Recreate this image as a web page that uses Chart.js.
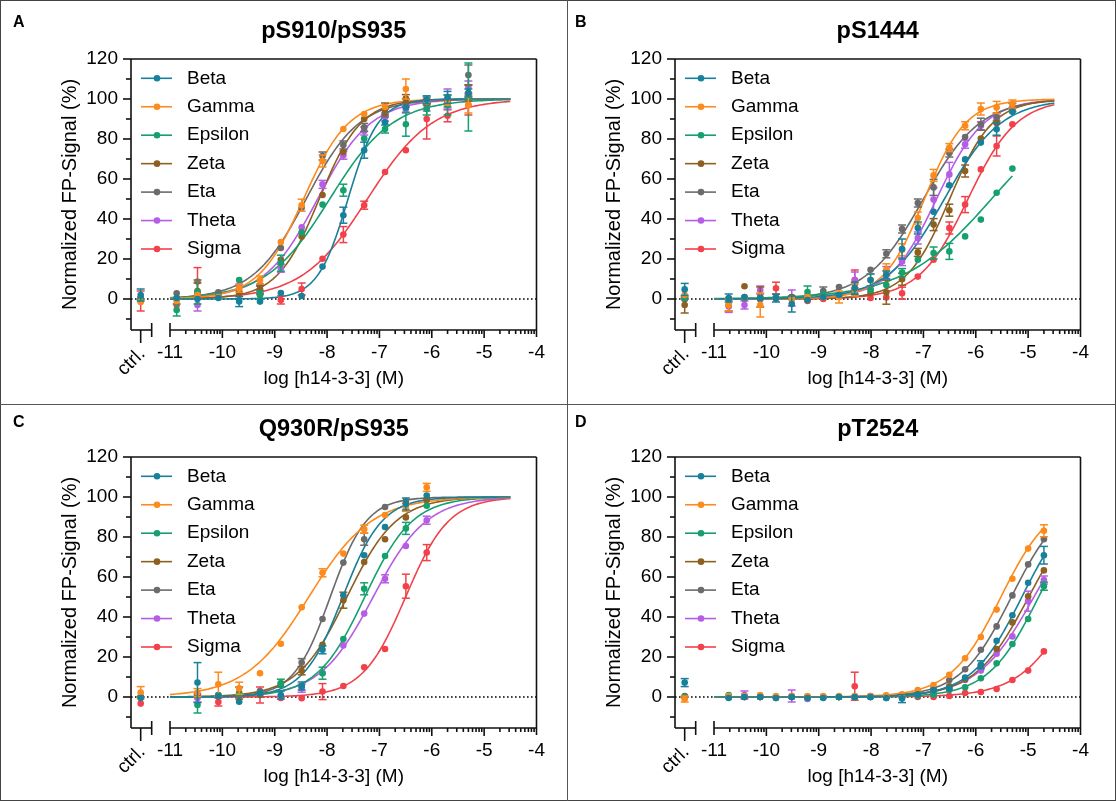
<!DOCTYPE html>
<html>
<head>
<meta charset="utf-8">
<script src="https://cdn.jsdelivr.net/npm/chart.js@4.4.1/dist/chart.umd.min.js"></script>
<style>
  html, body { margin: 0; padding: 0; background: #fff; }
  #page { position: relative; width: 1116px; height: 801px; overflow: hidden; font-family: 'Liberation Sans', Arial, sans-serif; }
  .outer { position: absolute; left: 0; top: 0; width: 1114px; height: 799px; border: 1px solid #444; }
  .vline { position: absolute; left: 567px; top: 0; width: 1px; height: 801px; background: #555; }
  .hline { position: absolute; left: 0; top: 404px; width: 1116px; height: 1px; background: #555; }
  .panel { position: absolute; width: 560px; height: 398px; }
  .letter { position: absolute; font-weight: bold; font-size: 16px; line-height: 16px; color: #000; }
</style>
</head>
<body>
<div id="page">
  <div class="outer"></div>
  <div class="vline"></div>
  <div class="hline"></div>
  <div class="panel" style="left:0;top:0"><canvas id="chartA" width="560" height="398"></canvas></div>
  <div class="panel" style="left:544px;top:0"><canvas id="chartB" width="560" height="398"></canvas></div>
  <div class="panel" style="left:0;top:398px"><canvas id="chartC" width="560" height="398"></canvas></div>
  <div class="panel" style="left:544px;top:398px"><canvas id="chartD" width="560" height="398"></canvas></div>
  <div class="letter" style="left:13px;top:14px">A</div>
  <div class="letter" style="left:575px;top:14px">B</div>
  <div class="letter" style="left:13px;top:414px">C</div>
  <div class="letter" style="left:575px;top:414px">D</div>
</div>
<script>
// series + axes
const seriesNames = ['Beta', 'Gamma', 'Epsilon', 'Zeta', 'Eta', 'Theta', 'Sigma'];
const seriesColors = ['#17819b', '#fd8a1d', '#15a06e', '#8d5f20', '#6b6b6b', '#b65de6', '#f2414a'];
const xTickLabels = [-11, -10, -9, -8, -7, -6, -5, -4];
const yTickLabels = [0, 20, 40, 60, 80, 100, 120];
const CTRL_X = -11.56;        // where the "ctrl." column sits on the broken axis
const CTRL_AXIS_END = -11.35;
const FIT_START = -11;

// ---- A: pS910/pS935 ----
const concA = [-10.873, -10.475, -10.077, -9.679, -9.281, -8.883, -8.485, -8.087, -7.689, -7.291, -6.893, -6.495, -6.097, -5.699, -5.301];
const aBeta       = [0.5, 0, 0.5, -1.3, -1.3, 3, 1.5, 16.2, 41.9, 74.4, 88.3, 95.8, 99.6, 100.8, 103];
const aBetaErr    = [0, 0, 0, 2.5, 0, 0, 0, 0, 4, 4, 0, 0, 2, 3, 2];
const aGamma      = [-1, 2, 1, 5.4, 9.5, 28.5, 46.9, 69, 85, 92.5, 96, 105, 98.5, 98, 97];
const aGammaErr   = [0, 0, 0, 2, 2, 0, 3, 3, 0, 0, 0, 5, 0, 0, 4];
const aEpsilon    = [-5.5, 3.5, 1.5, 9.5, 2, 17.9, 33.3, 47.2, 54.4, 80.2, 85, 87.4, 95, 97, 101];
const aEpsilonErr = [3, 6, 0, 0, 2, 4, 0, 0, 3, 0, 2, 6, 3, 5, 17];
const aZeta       = [0, 4, 1.5, 3, 4.5, 19.6, 31.3, 52, 73.5, 90, 95, 100.2, 98, 99, 103];
const aZetaErr    = [0, 4, 0, 0, 2, 0, 0, 0, 0, 0, 3, 2, 0, 0, 4];
const aEta        = [2.9, 2.5, 3.4, 4, 7, 25.5, 45.6, 71.5, 77, 85.8, 93, 98, 99, 99, 112];
const aEtaErr     = [0, 0, 0, 0, 0, 0, 0, 2, 2, 2, 2, 2, 2, 3, 5];
const aTheta      = [0, -3, 1, 6.8, 5, 15.4, 35.8, 57.3, 71.9, 84, 91, 95, 96, 100, 106];
const aThetaErr   = [0, 3, 0, 0, 2, 2, 0, 2, 2, 2, 2, 2, 2, 5, 3];
const aSigma      = [-3, 8.7, 1, 2, 2, -0.5, 5, 20.1, 32.2, 46.9, 63.5, 74.4, 90, 91.6, 97];
const aSigmaErr   = [0, 7, 0, 0, 0, 2, 3, 0, 4, 2, 0, 0, 10, 3, 5];
const ctrlA    = [2, -1.5, 0, 0.5, 0, 0.5, -1];
const ctrlAErr = [3, 0, 0, 0, 0, 0, 5];
const ec50A = [-7.6, -8.45, -7.95, -8.15, -8.4, -8.18, -7.23];
const hillA = [1.5, 1.0, 0.72, 1.08, 0.85, 0.85, 0.7];
const fitEndA = [-4.5, -4.5, -4.5, -4.5, -4.5, -4.5, -4.5];

// ---- B: pS1444 ----
const concB = [-10.719, -10.418, -10.117, -9.816, -9.515, -9.214, -8.913, -8.612, -8.311, -8.010, -7.709, -7.408, -7.107, -6.806, -6.505, -6.204, -5.903, -5.602, -5.301];
const bBeta       = [0.5, 1, 0.5, 0.5, -2.5, -0.5, 1, 2, 5.4, 9.5, 12, 25, 35.5, 43.6, 56.9, 69.8, 78.2, 84.9, 93.6];
const bBetaErr    = [2, 0, 0, 2, 4, 0, 0, 0, 3, 3, 2, 5, 3, 0, 0, 0, 0, 3, 0];
const bGamma      = [-3, 1, -3, 0.5, 0, 1, 1, 1, 4.5, 9.5, 14.6, 24.6, 40.5, 61.8, 75.7, 86.6, 95, 95.8, 97.5];
const bGammaErr   = [3, 0, 6, 0, 0, 0, 0, 3, 3, 3, 3, 3, 3, 3, 2, 2, 3, 3, 2];
const bEpsilon    = [0, 0.5, 0.5, 1, 0.5, 3.5, 2.5, 2, 3, 4.5, 7, 13.2, 19.6, 23, 23.8, 31.3, 39.7, 53.1, 65.2];
const bEpsilonErr = [0, 0, 0, 0, 0, 3, 0, 0, 0, 0, 0, 2, 0, 3, 4, 0, 0, 0, 0];
const bZeta       = [-3, 6.4, 1, 0.5, 1, 0, 1, 2, 3, 3, 3.4, 9.9, 23.3, 37.2, 44.4, 64, 80.2, 88, 94];
const bZetaErr    = [3, 0, 5, 0, 0, 0, 0, 0, 0, 0, 6, 3, 2, 3, 3, 3, 0, 0, 0];
const bEta        = [0, 0.5, 0, 0.5, 1, 1.5, 4, 6, 7.5, 14.6, 22.6, 35, 48, 55.8, 73, 81, 87.4, 91, 95.8];
const bEtaErr     = [0, 0, 0, 0, 0, 0, 2, 0, 0, 0, 2, 2, 2, 4, 2, 0, 3, 2, 2];
const bTheta      = [-3.7, -3, 4.5, 0, 0.5, 1, 1, 2, 9.5, 5, 13.2, 18.7, 30.5, 49.7, 62.3, 77.4, 86.6, 89.8, 94];
const bThetaErr   = [3, 2, 2, 0, 4, 0, 0, 0, 4, 0, 3, 2, 3, 6, 6, 2, 2, 2, 0];
const bSigma      = [0, 0, 0, 5.4, 0, -1, 0, 1, 9.5, 0.5, 0.8, 2.9, 11.2, 19.6, 35.5, 47.2, 64.8, 76.5, 87.4];
const bSigmaErr   = [0, 0, 0, 3, 0, 0, 0, 0, 5, 0, 0, 3, 0, 0, 3, 4, 0, 5, 0];
const ctrlB    = [4.8, 2, 0.5, -3, 0, 0, 0];
const ctrlBErr = [3, 0, 0, 4, 0, 0, 0];
const ec50B = [-6.6, -6.98, -5.7, -6.5, -7.0, -6.75, -6.15];
const hillB = [0.8, 1.1, 0.51, 1.05, 0.8, 0.95, 0.93];
const fitEndB = [-4.5, -4.5, -5.301, -4.5, -4.5, -4.5, -4.5];

// ---- C: Q930R/pS935 ----
const concC = [-10.475, -10.077, -9.679, -9.281, -8.883, -8.485, -8.087, -7.689, -7.291, -6.893, -6.495, -6.097];
const cBeta       = [7.2, 0.4, -2.4, 1.9, 1, 5.5, 23.6, 50.9, 70.9, 85, 96.5, 100.7];
const cBetaErr    = [10, 0, 0, 0, 2, 2, 2, 0, 0, 0, 3, 0];
const cGamma      = [2.2, 6.4, 4.4, 11.9, 26.6, 44.9, 62.1, 71.7, 83.9, 91, 94.8, 104.8];
const cGammaErr   = [2, 6, 3, 0, 0, 0, 2, 0, 2, 0, 2, 2];
const cEpsilon    = [-4, 1, 1.5, 2, 6.9, 5.5, 11.9, 29, 54.1, 70.5, 84.3, 95.6];
const cEpsilonErr = [4, 0, 0, 0, 2, 0, 3, 0, 3, 0, 3, 0];
const cZeta       = [1, 0.5, 2, 1, 6.9, 13.1, 26.1, 48.4, 67.5, 78.9, 89.8, 98.5];
const cZetaErr    = [0, 0, 3, 0, 0, 2, 0, 4, 0, 0, 0, 0];
const cEta        = [1, 0.5, 1, 3, 6, 17.2, 39, 67.2, 78.9, 95, 98, 99];
const cEtaErr     = [0, 0, 0, 0, 0, 2, 0, 0, 3, 0, 0, 0];
const cTheta      = [-0.5, 1, 1, 1, 0.5, 4.4, 11.9, 25.8, 41.7, 59.1, 75.5, 88.4];
const cThetaErr   = [2, 0, 0, 0, 0, 2, 0, 0, 0, 2, 0, 2];
const cSigma      = [0, -2.5, 0.5, 1, -0.5, -0.6, 2.7, 5.5, 14.9, 24, 55.4, 72.2];
const cSigmaErr   = [0, 2, 0, 4, 0, 0, 4, 0, 0, 0, 6, 4];
const ctrlC    = [-0.5, 2.2, 0, 0, 0, 0, -3.3];
const ctrlCErr = [0, 3, 0, 0, 0, 0, 0];
const ec50C = [-7.7, -8.35, -7.28, -7.62, -7.94, -7.12, -6.5];
const hillC = [1.15, 0.72, 0.95, 0.92, 1.25, 0.85, 1.05];
const fitEndC = [-4.5, -4.5, -4.5, -4.5, -4.5, -4.5, -4.5];

// ---- D: pT2524 ----
const concD = [-10.720, -10.419, -10.118, -9.817, -9.516, -9.215, -8.914, -8.613, -8.312, -8.011, -7.710, -7.409, -7.108, -6.807, -6.506, -6.204, -5.903, -5.602, -5.301, -5.000, -4.699];
const dBeta       = [-0.5, 0, 0, -0.5, 0, -0.5, -0.5, 0, 0, 0, -0.5, -0.8, 1.3, 3.5, 4.4, 9.7, 16.1, 28.1, 40.9, 57.1, 70.9];
const dBetaErr    = [0, 0, 0, 0, 0, 0, 0, 0, 0, 0, 0, 2, 0, 0, 0, 0, 2, 0, 0, 0, 4.4];
const dGamma      = [0.5, 0.5, 1, 0.5, 0.5, 0.5, 0.5, 0.5, 0.5, 0.5, 0.8, 1.4, 3.5, 6, 11.1, 19.4, 30, 43.7, 59.1, 74.2, 83.1];
const dGammaErr   = [0, 0, 0, 0, 0, 0, 0, 0, 0, 0, 0, 0, 0, 0, 0, 0, 0, 0, 0, 0, 3];
const dEpsilon    = [1, 0.5, 0.5, 0, 0, 0, 0, 0, 0, 0, -0.5, 0, 0.5, 1.2, 3.5, 4.9, 9.4, 16.9, 26.5, 39, 55.4];
const dEpsilonErr = [0, 0, 0, 0, 0, 0, 0, 0, 0, 0, 0, 0, 0, 0, 0, 0, 0, 0, 0, 0, 2];
const dZeta       = [0, 0, 0, 0, 0, 0, 0, 0, 0, 0, 0.5, 1, 1.5, 3, 5.4, 8.9, 15.6, 24, 37.3, 50.4, 63.3];
const dZetaErr    = [0, 0, 0, 0, 0, 0, 0, 0, 0, 0, 0, 0, 0, 0, 0, 0, 0, 0, 0, 0, 0];
const dEta        = [0, 0, 0, 0, 0, 0, 0, 0, 0, 0, 0.5, 1, 1.9, 4.4, 8.5, 13.9, 23.6, 35.3, 50.8, 66.3, 78.9];
const dEtaErr     = [0, 0, 0, 0, 0, 0, 0, 0, 0, 0, 0, 0, 0, 0, 0, 0, 0, 0, 0, 0, 0];
const dTheta      = [0, 1, 0, 0, 0.5, -1, 0, 0, 0, 0, 0, 0.5, 1, 2, 4.4, 8.5, 13.2, 21.6, 30.3, 47.9, 58.5];
const dThetaErr   = [0, 2, 0, 0, 3, 0, 0, 0, 0, 0, 0, 0, 0, 0, 0, 0, 0, 0, 0, 5, 2];
const dSigma      = [0, 0, 0, -0.5, 0, 0, 0, 0, 5.4, 0.5, 0, 0, 0, 0, 0.5, 2, 2.5, 4, 8.5, 13.2, 22.8];
const dSigmaErr   = [0, 0, 0, 0, 0, 0, 0, 0, 7, 0, 0, 0, 0, 0, 0, 0, 0, 0, 0, 0, 0];
const ctrlD    = [7.2, -1, 0, 0, 0.5, 0, 0];
const ctrlDErr = [2, 1.5, 0, 0, 0, 0, 0];
const ec50D = [-5.12, -5.52, -4.8, -4.99, -5.32, -4.89, -4.05];
const hillD = [0.9, 0.9, 0.9, 0.85, 0.9, 0.8, 0.82];
const fitEndD = [-4.699, -4.699, -4.699, -4.699, -4.699, -4.699, -4.699];

Chart.defaults.font.family = "'Liberation Sans', Arial, Helvetica, sans-serif";
Chart.defaults.color = '#000';

// fitted dose-response (4PL, bottom 0, top 100)
function hillFit(x, ec50, h) {
  return 100 / (1 + Math.pow(10, (ec50 - x) * h));
}

function drawLine(ctx, x1, y1, x2, y2) {
  ctx.beginPath();
  ctx.moveTo(x1, y1);
  ctx.lineTo(x2, y2);
  ctx.stroke();
}

const panelDecor = {
  id: 'panelDecor',
  beforeDatasetsDraw(chart) {
    const { ctx, chartArea: a, scales: { y } } = chart;
    const y0 = y.getPixelForValue(0);
    ctx.save();
    ctx.strokeStyle = '#000';
    ctx.lineWidth = 1.5;
    ctx.setLineDash([1.6, 2.4]);
    drawLine(ctx, a.left, y0, a.right, y0);
    ctx.restore();
  },
  beforeDatasetDraw(chart, args) {
    const ds = chart.data.datasets[args.index];
    if (!ds.errorBars) return;
    const { ctx, scales: { x, y } } = chart;
    ctx.save();
    ctx.strokeStyle = ds.backgroundColor;
    ctx.lineWidth = 1.5;
    ds.data.forEach(function(p) {
      if (!p.e) return;
      const px = x.getPixelForValue(p.x);
      const t = y.getPixelForValue(p.y + p.e);
      const b = y.getPixelForValue(p.y - p.e);
      drawLine(ctx, px, t, px, b);
      drawLine(ctx, px - 4, t, px + 4, t);
      drawLine(ctx, px - 4, b, px + 4, b);
    });
    ctx.restore();
  },
  afterDraw(chart, args, opts) {
    const { ctx, chartArea: a, scales: { x, y } } = chart;
    const family = Chart.defaults.font.family;
    ctx.save();
    ctx.strokeStyle = '#111';
    ctx.lineWidth = 1.6;

    // y axis and the frame
    drawLine(ctx, a.left, a.top, a.left, a.bottom);
    drawLine(ctx, a.left, a.top, a.right, a.top);
    drawLine(ctx, a.right, a.top, a.right, a.bottom + 7);
    for (let v = -10; v <= 120; v += 10) {
      const py = y.getPixelForValue(v);
      drawLine(ctx, a.left - (v % 20 === 0 ? 8 : 5), py, a.left, py);
    }

    // broken x axis: short ctrl stub, then -11 .. -4
    const yb = a.bottom;
    const xc = x.getPixelForValue(CTRL_X);
    const xs = x.getPixelForValue(CTRL_AXIS_END);
    const x0 = x.getPixelForValue(xTickLabels[0]);
    const x1 = x.getPixelForValue(xTickLabels[xTickLabels.length - 1]);
    drawLine(ctx, a.left, yb, xs, yb);
    drawLine(ctx, xc, yb, xc, yb + 13);
    drawLine(ctx, xs, yb - 7, xs, yb + 7);
    drawLine(ctx, x0, yb - 7, x0, yb + 7);
    drawLine(ctx, x0, yb, x1, yb);
    for (let d = -11; d < -4; d++) {
      if (d > -11) drawLine(ctx, x.getPixelForValue(d), yb, x.getPixelForValue(d), yb + 8);
      for (let k = 2; k <= 9; k++) {
        const px = x.getPixelForValue(d + Math.log10(k));
        drawLine(ctx, px, yb, px, yb + 4);
      }
    }

    // ctrl. label
    ctx.fillStyle = '#000';
    ctx.font = '19px ' + family;
    ctx.save();
    ctx.translate(xc + 1.5, yb + 21);
    ctx.rotate(-Math.PI / 4);
    ctx.textAlign = 'right';
    ctx.textBaseline = 'middle';
    ctx.fillText('ctrl.', 0, 0);
    ctx.restore();

    // legend inside the plot
    ctx.textAlign = 'left';
    ctx.textBaseline = 'middle';
    seriesNames.forEach(function(name, i) {
      const ly = a.top + 19.3 + i * 28.45;
      ctx.strokeStyle = seriesColors[i];
      ctx.lineWidth = 1.6;
      drawLine(ctx, a.left + 10, ly, a.left + 41, ly);
      ctx.fillStyle = seriesColors[i];
      ctx.beginPath();
      ctx.arc(a.left + 26, ly, 3.3, 0, Math.PI * 2);
      ctx.fill();
      ctx.fillStyle = '#000';
      ctx.fillText(name, a.left + 56, ly);
    });

    // panel title
    ctx.font = 'bold 23.5px ' + family;
    ctx.textAlign = 'center';
    ctx.fillText(opts.title, (a.left + a.right) / 2, 32);
    ctx.restore();
  }
};

function makePanel(canvasId, title, conc, values, errs, ctrl, ctrlErr, ec50, hill, fitEnd) {
  const datasets = [];
  seriesNames.forEach(function(name, i) {
    const pts = conc.map(function(c, j) { return { x: c, y: values[i][j], e: errs[i][j] }; });
    pts.push({ x: CTRL_X, y: ctrl[i], e: ctrlErr[i] });
    datasets.push({
      label: name,
      data: pts,
      errorBars: true,
      backgroundColor: seriesColors[i],
      borderWidth: 0,
      pointRadius: 3.3,
      showLine: false,
      order: 1
    });
    const curve = [];
    for (let c = FIT_START; c < fitEnd[i]; c += 0.04) curve.push({ x: c, y: hillFit(c, ec50[i], hill[i]) });
    curve.push({ x: fitEnd[i], y: hillFit(fitEnd[i], ec50[i], hill[i]) });
    datasets.push({
      label: name + ' fit',
      data: curve,
      borderColor: seriesColors[i],
      borderWidth: 1.6,
      pointRadius: 0,
      showLine: true,
      tension: 0,
      order: 2
    });
  });

  new Chart(document.getElementById(canvasId), {
    type: 'scatter',
    data: { datasets: datasets },
    options: {
      responsive: false,
      devicePixelRatio: 1,
      animation: false,
      events: [],
      layout: { padding: { left: 0, right: 23.5, top: 59, bottom: 0 } },
      plugins: {
        legend: { display: false },
        tooltip: { enabled: false },
        panelDecor: { title: title }
      },
      scales: {
        x: {
          type: 'linear',
          min: -11.745,
          max: -4,
          afterBuildTicks: function(s) { s.ticks = xTickLabels.map(function(v) { return { value: v }; }); },
          afterFit: function(s) { s.height = 68; },
          grid: { drawOnChartArea: false, drawTicks: true, tickLength: 8, color: 'rgba(0,0,0,0)' },
          border: { display: false },
          ticks: { font: { size: 19 }, color: '#000', padding: 3, maxRotation: 0, autoSkip: false },
          title: { display: true, text: 'log [h14-3-3] (M)', font: { size: 19 }, color: '#000', padding: { top: 4, bottom: 8 } }
        },
        y: {
          type: 'linear',
          min: -15.5,
          max: 120,
          afterBuildTicks: function(s) { s.ticks = yTickLabels.map(function(v) { return { value: v }; }); },
          afterFit: function(s) { s.width = 131; },
          grid: { drawOnChartArea: false, drawTicks: true, tickLength: 8, color: 'rgba(0,0,0,0)' },
          border: { display: false },
          ticks: { font: { size: 19 }, color: '#000', padding: 5 },
          title: { display: true, text: 'Normalized FP-Signal (%)', font: { size: 20 }, color: '#000', padding: { top: 58, bottom: 0 } }
        }
      }
    },
    plugins: [panelDecor]
  });
}

makePanel('chartA', 'pS910/pS935', concA,
  [aBeta, aGamma, aEpsilon, aZeta, aEta, aTheta, aSigma],
  [aBetaErr, aGammaErr, aEpsilonErr, aZetaErr, aEtaErr, aThetaErr, aSigmaErr],
  ctrlA, ctrlAErr, ec50A, hillA, fitEndA);
makePanel('chartB', 'pS1444', concB,
  [bBeta, bGamma, bEpsilon, bZeta, bEta, bTheta, bSigma],
  [bBetaErr, bGammaErr, bEpsilonErr, bZetaErr, bEtaErr, bThetaErr, bSigmaErr],
  ctrlB, ctrlBErr, ec50B, hillB, fitEndB);
makePanel('chartC', 'Q930R/pS935', concC,
  [cBeta, cGamma, cEpsilon, cZeta, cEta, cTheta, cSigma],
  [cBetaErr, cGammaErr, cEpsilonErr, cZetaErr, cEtaErr, cThetaErr, cSigmaErr],
  ctrlC, ctrlCErr, ec50C, hillC, fitEndC);
makePanel('chartD', 'pT2524', concD,
  [dBeta, dGamma, dEpsilon, dZeta, dEta, dTheta, dSigma],
  [dBetaErr, dGammaErr, dEpsilonErr, dZetaErr, dEtaErr, dThetaErr, dSigmaErr],
  ctrlD, ctrlDErr, ec50D, hillD, fitEndD);
</script>
</body>
</html>
